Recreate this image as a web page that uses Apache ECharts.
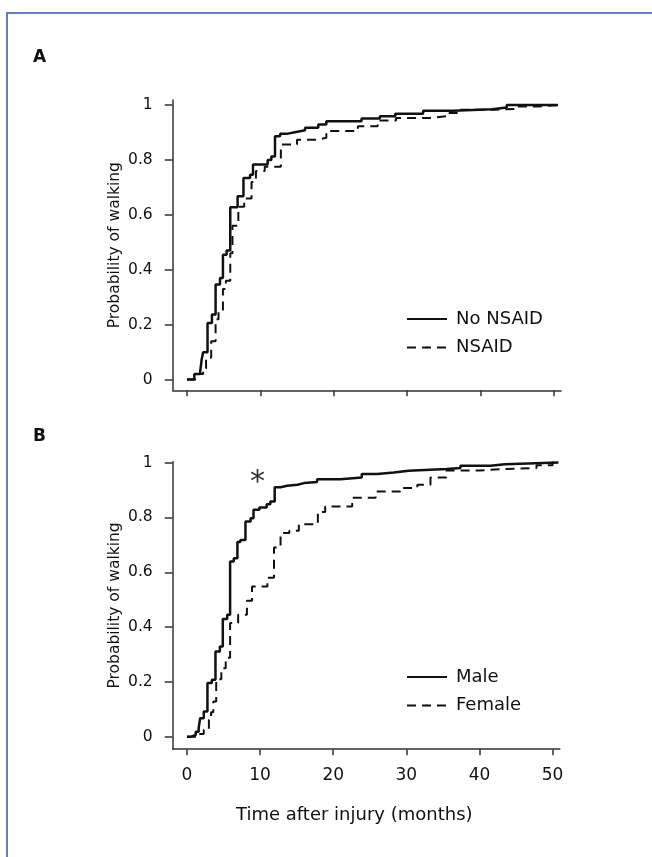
<!DOCTYPE html>
<html>
<head>
<meta charset="utf-8">
<script src="https://cdn.jsdelivr.net/npm/echarts@6/dist/echarts.min.js"></script>
<style>
html,body{margin:0;padding:0;background:#fff;}
#chart{width:652px;height:857px;}
</style>
</head>
<body>
<div id="chart"></div>
<script>
// Panel A
const noNsaidT = [0,1.0,1.8,2.0,2.2,2.8,3.4,3.9,4.5,4.9,5.4,5.9,6.9,7.7,8.6,9.0,11.0,11.5,12.0,12.7,13.6,14.7,16.1,17.9,19.0,23.8,26.3,28.4,32.2,36.3,41.6,43.6,50.6];
const noNsaidP = [0,0.02,0.03,0.073,0.10,0.206,0.237,0.346,0.37,0.455,0.47,0.628,0.668,0.734,0.746,0.783,0.80,0.813,0.886,0.895,0.901,0.908,0.917,0.929,0.941,0.951,0.959,0.968,0.979,0.985,0.991,1.0,1.0];
const nsaidT = [0,1.3,2.2,2.6,3.3,3.9,4.3,4.9,5.3,5.9,6.2,7.0,7.8,8.8,9.4,10.6,12.8,15.0,17.9,19.0,23.3,26.0,28.5,33.1,35.4,37.0,42.0,45.0,48.0,50.8];
const nsaidP = [0,0.02,0.04,0.08,0.14,0.22,0.25,0.33,0.36,0.46,0.56,0.63,0.66,0.72,0.76,0.775,0.856,0.874,0.881,0.905,0.923,0.944,0.953,0.959,0.971,0.983,0.986,0.995,1.0,1.0];
// Panel B
const maleT = [0,0.5,1.2,1.6,1.8,2.3,2.8,3.4,3.9,4.5,4.9,5.5,5.9,6.4,6.9,7.3,8.0,8.7,9.1,9.9,10.9,11.4,12.0,12.8,13.7,15.1,16.0,17.8,21.0,23.9,26.0,28.3,30.3,35.5,37.4,41.5,43.5,50.8];
const maleP = [0,0.007,0.019,0.032,0.068,0.092,0.196,0.208,0.311,0.329,0.43,0.445,0.639,0.651,0.71,0.718,0.785,0.797,0.828,0.836,0.848,0.858,0.910,0.915,0.919,0.925,0.929,0.939,0.945,0.958,0.964,0.970,0.976,0.98,0.988,0.994,1.0,1.0];
const femaleT = [0,1.5,2.3,3.0,3.3,3.6,4.0,4.7,5.3,5.9,7.0,8.2,8.9,11.0,11.9,12.8,14.0,15.3,17.9,18.9,22.6,25.8,29.2,31.5,33.3,35.5,40.0,42.8,47.8,50.0,51.0];
const femaleP = [0,0.01,0.026,0.062,0.09,0.129,0.21,0.25,0.288,0.415,0.445,0.496,0.548,0.58,0.69,0.743,0.751,0.775,0.82,0.84,0.872,0.894,0.907,0.919,0.945,0.971,0.976,0.98,0.99,1.0,1.0];

const xTicks = [0,10,20,30,40,50];
const yTicks = [0,0.2,0.4,0.6,0.8,1];
const seriesNamesA = ['No NSAID','NSAID'];
const seriesNamesB = ['Male','Female'];

const FONT = 'DejaVu Sans';
const zip = (t,p) => t.map((v,i)=>[v,p[i]]);
const SOLID_ICON = 'path://M0,0H40V2.5H0Z';
const DASH_ICON = 'path://M0,0H9V2.5H0Z M15,0H24V2.5H15Z M31,0H40V2.5H31Z';

const chart = echarts.init(document.getElementById('chart'), null, {renderer:'canvas'});

function xAxisCfg(gi, showLabels, name){
  return {
    type:'value', gridIndex:gi, min:-1.95, max:51,
    axisLine:{show:true, onZero:false, lineStyle:{color:'#333', width:1.5}},
    axisTick:{show:true, customValues:xTicks, length:6, lineStyle:{color:'#333', width:1.5}},
    axisLabel:{show:showLabels, customValues:xTicks, fontFamily:FONT, fontSize:17, color:'#111', margin:18},
    splitLine:{show:false},
    name: name, nameLocation:'middle', nameGap:57,
    nameTextStyle:{fontFamily:FONT, fontSize:18, color:'#111', padding:[0,24,0,0]}
  };
}
function yAxisCfg(gi, min, max){
  return {
    type:'value', gridIndex:gi, min:min, max:max,
    axisLine:{show:true, onZero:false, lineStyle:{color:'#333', width:1.5}},
    axisTick:{show:true, customValues:yTicks, length:8, lineStyle:{color:'#333', width:1.5}},
    axisLabel:{show:true, customValues:yTicks, fontFamily:FONT, fontSize:15.5, color:'#111', margin:20},
    splitLine:{show:false},
    name:'Probability of walking', nameLocation:'middle', nameGap:50, nameRotate:90,
    nameMoveOverlap:false,
    nameTextStyle:{fontFamily:FONT, fontSize:15.5, color:'#111'}
  };
}
function lineSeries(name, data, xi, dashed){
  return {
    name:name, type:'line', step:'end', xAxisIndex:xi, yAxisIndex:xi,
    symbol:'none', data:data, animation:false,
    legendIcon: dashed ? DASH_ICON : SOLID_ICON,
    lineStyle:{color:'#111', width: dashed?2:2.5, type: dashed?[9,6]:'solid'},
    itemStyle:{color:'#111'}
  };
}
function legendCfg(names, top){
  return {data:names, orient:'vertical', left:401, top:top, itemWidth:40, itemHeight:2.5, itemGap:10.5,
    textStyle:{fontFamily:FONT, fontSize:18, color:'#111', padding:[0,0,0,4]}};
}

chart.setOption({
  backgroundColor:'#fff',
  animation:false,
  grid:[
    {left:172.7, top:100.1, width:388.3, height:290.2},
    {left:172.7, top:461.7, width:387.2, height:287.5}
  ],
  xAxis:[ xAxisCfg(0,false,''), xAxisCfg(1,true,'Time after injury (months)') ],
  yAxis:[ yAxisCfg(0,-0.039,1.018), yAxisCfg(1,-0.045,1.003) ],
  legend:[ legendCfg(seriesNamesA, 305), legendCfg(seriesNamesB, 663) ],
  series:[
    lineSeries(seriesNamesA[0], zip(noNsaidT,noNsaidP), 0, false),
    lineSeries(seriesNamesA[1], zip(nsaidT,nsaidP), 0, true),
    lineSeries(seriesNamesB[0], zip(maleT,maleP), 1, false),
    lineSeries(seriesNamesB[1], zip(femaleT,femaleP), 1, true)
  ],
  graphic:[
    {type:'rect', shape:{x:7,y:13,width:700,height:900}, style:{fill:'none', stroke:'#6a7bbd', lineWidth:2}, silent:true},
    {type:'text', x:33, y:49, style:{text:'A', font:'bold 17px "DejaVu Sans"', fill:'#111'}},
    {type:'text', x:33, y:428, style:{text:'B', font:'bold 17px "DejaVu Sans"', fill:'#111'}},
    {type:'text', x:257.5, y:468, style:{text:'*', font:'30px "DejaVu Sans"', fill:'#333', align:'center'}}
  ]
});
</script>
</body>
</html>
